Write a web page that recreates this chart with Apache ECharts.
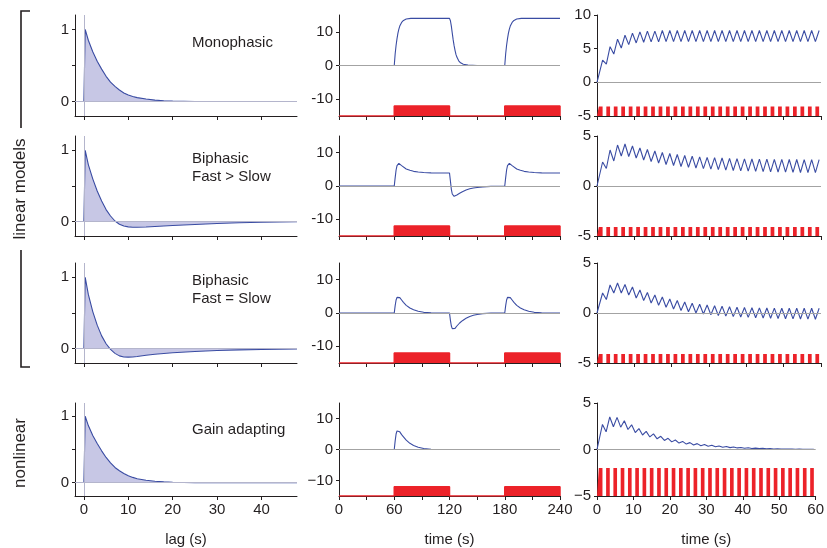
<!DOCTYPE html>
<html>
<head>
<meta charset="utf-8">
<script src="https://cdn.jsdelivr.net/npm/echarts@6/dist/echarts.min.js"></script>
<style>
  html, body { margin: 0; background: #fff; }
  #chart { width: 827px; height: 548px; }
</style>
</head>
<body>
<div id="chart"></div>
<script>
// ---- column 1: temporal kernels (lag in s) ----
const kernelLag   = [0, 0.3, 1, 2, 3, 4, 5, 6, 7, 8, 9, 10, 11, 12, 14, 16, 18, 20, 25, 30, 35, 40, 48]
const kernelMono  = [0, 1.0, 0.85, 0.69, 0.56, 0.45, 0.35, 0.27, 0.21, 0.16, 0.12, 0.09, 0.07, 0.055, 0.035, 0.02, 0.012, 0.007, 0.002, 0, 0, 0, 0]
const kernelFast  = [0, 1.0, 0.8, 0.6, 0.43, 0.29, 0.17, 0.08, 0.01, -0.035, -0.06, -0.072, -0.078, -0.078, -0.074, -0.067, -0.06, -0.053, -0.038, -0.025, -0.015, -0.008, 0]
const kernelEqual = [0, 1.0, 0.76, 0.52, 0.33, 0.18, 0.07, -0.01, -0.065, -0.1, -0.115, -0.118, -0.115, -0.108, -0.092, -0.078, -0.066, -0.056, -0.038, -0.025, -0.016, -0.01, -0.004]
const kernelGain  = [0, 1.0, 0.86, 0.71, 0.59, 0.48, 0.38, 0.3, 0.23, 0.18, 0.14, 0.105, 0.08, 0.06, 0.037, 0.022, 0.013, 0.008, 0.002, 0, 0, 0, 0]
const kernelNames = [['Monophasic'], ['Biphasic', 'Fast > Slow'], ['Biphasic', 'Fast = Slow'], ['Gain adapting']]

// ---- column 2: responses to 60 s steps ----
const stepOn = [60, 180]
const stepDur = 60
const stepTop = -12
const stepT1 = [0, 60, 61, 62, 63, 64, 65, 66, 68, 70, 73, 78, 120, 121, 122, 123, 124, 125, 126, 127, 128, 130, 132, 135, 140, 150, 180, 181, 182, 183, 184, 185, 186, 188, 190, 193, 198, 240]
const stepY1 = [0, 0, 3.5, 6.0, 8.0, 9.6, 10.8, 11.7, 12.8, 13.4, 13.8, 14, 14, 13.3, 11.7, 9.6, 7.6, 5.9, 4.5, 3.3, 2.5, 1.4, 0.8, 0.35, 0.1, 0, 0, 3.5, 6.0, 8.0, 9.6, 10.8, 11.7, 12.8, 13.4, 13.8, 14, 14]
const stepT2 = [0, 60, 61, 62, 63, 64, 65, 66, 68, 70, 73, 77, 81, 86, 92, 100, 110, 120, 121, 122, 123, 124, 125, 126, 128, 131, 134, 138, 142, 146, 150, 156, 165, 180, 181, 182, 183, 184, 185, 186, 188, 190, 193, 197, 201, 206, 212, 220, 230, 240]
const stepY2 = [0, 0, 2.5, 4.8, 6.1, 6.7, 6.8, 6.6, 6.1, 5.6, 5.1, 4.7, 4.4, 4.2, 4.05, 3.95, 3.9, 3.9, 1.5, -1.0, -2.4, -3.0, -3.1, -3.0, -2.7, -2.2, -1.7, -1.2, -0.85, -0.6, -0.45, -0.25, -0.1, 0, 2.5, 4.8, 6.1, 6.7, 6.8, 6.6, 6.1, 5.6, 5.1, 4.7, 4.4, 4.2, 4.05, 3.95, 3.9, 3.9]
const stepT3 = [0, 60, 61, 62, 63, 64, 65, 66, 68, 70, 73, 77, 81, 86, 92, 100, 120, 121, 122, 123, 124, 125, 126, 128, 131, 134, 138, 142, 146, 150, 156, 165, 180, 181, 182, 183, 184, 185, 186, 188, 190, 193, 197, 201, 206, 212, 220, 240]
const stepY3 = [0, 0, 2.2, 3.9, 4.7, 5.0, 4.9, 4.6, 3.9, 3.2, 2.3, 1.5, 0.95, 0.5, 0.2, 0.05, 0, -2.2, -3.9, -4.7, -5.0, -4.9, -4.6, -3.9, -3.0, -2.3, -1.6, -1.05, -0.7, -0.45, -0.2, -0.05, 0, 2.2, 3.9, 4.7, 5.0, 4.9, 4.6, 3.9, 3.2, 2.3, 1.5, 0.95, 0.5, 0.2, 0.05, 0]
const stepT4 = [0, 60, 61, 62, 63, 64, 65, 66, 68, 70, 73, 77, 81, 86, 92, 100, 110, 240]
const stepY4 = [0, 0, 2.8, 5.0, 6.0, 6.3, 6.1, 5.7, 4.8, 4.1, 3.0, 2.0, 1.3, 0.7, 0.3, 0.1, 0, 0]

// ---- column 3: responses to 1 s pulses every 2 s ----
const pulseOn = [0.5, 2.5, 4.5, 6.5, 8.5, 10.5, 12.5, 14.5, 16.5, 18.5, 20.5, 22.5, 24.5, 26.5, 28.5, 30.5, 32.5, 34.5, 36.5, 38.5, 40.5, 42.5, 44.5, 46.5, 48.5, 50.5, 52.5, 54.5, 56.5, 58.5]
const pulseDur = 1
const pulseTop = [-3.6, -4.1, -4.1, -2.0]
const peaks1   = [3.3, 5.3, 6.4, 7.0, 7.3, 7.5, 7.6, 7.6, 7.7, 7.7, 7.7, 7.7, 7.7, 7.7, 7.7, 7.7, 7.7, 7.7, 7.7, 7.7, 7.7, 7.7, 7.7, 7.7, 7.7, 7.7, 7.7, 7.7, 7.7, 7.7]
const troughs1 = [2.7, 4.2, 5.1, 5.6, 5.85, 5.95, 6.0, 6.0, 6.05, 6.05, 6.05, 6.05, 6.05, 6.05, 6.05, 6.05, 6.05, 6.05, 6.05, 6.05, 6.05, 6.05, 6.05, 6.05, 6.05, 6.05, 6.05, 6.05, 6.05]
const peaks2   = [2.4, 3.6, 4.1, 4.2, 4.0, 3.8, 3.65, 3.5, 3.35, 3.25, 3.15, 3.05, 2.98, 2.92, 2.87, 2.83, 2.8, 2.77, 2.74, 2.72, 2.7, 2.69, 2.68, 2.67, 2.66, 2.65, 2.65, 2.64, 2.64, 2.63]
const troughs2 = [1.75, 2.5, 3.0, 2.95, 2.8, 2.6, 2.45, 2.3, 2.15, 2.05, 1.95, 1.87, 1.8, 1.74, 1.68, 1.63, 1.59, 1.55, 1.52, 1.49, 1.46, 1.44, 1.42, 1.4, 1.38, 1.36, 1.35, 1.34, 1.33]
const peaks3   = [2.0, 2.8, 3.0, 2.85, 2.6, 2.3, 2.05, 1.8, 1.6, 1.4, 1.25, 1.1, 0.98, 0.88, 0.8, 0.73, 0.67, 0.62, 0.58, 0.55, 0.53, 0.51, 0.5, 0.49, 0.48, 0.48, 0.47, 0.47, 0.47, 0.47]
const troughs3 = [1.35, 2.0, 2.0, 1.8, 1.5, 1.25, 1.0, 0.78, 0.58, 0.4, 0.25, 0.12, 0.0, -0.1, -0.18, -0.25, -0.31, -0.36, -0.4, -0.44, -0.47, -0.5, -0.53, -0.55, -0.57, -0.59, -0.6, -0.61, -0.62]
const peaks4   = [2.7, 3.5, 3.45, 3.1, 2.65, 2.25, 1.95, 1.68, 1.42, 1.2, 1.02, 0.87, 0.74, 0.63, 0.53, 0.45, 0.38, 0.32, 0.27, 0.22, 0.18, 0.15, 0.12, 0.1, 0.08, 0.06, 0.05, 0.04, 0.03, 0.03]
const troughs4 = [1.9, 2.45, 2.4, 2.15, 1.82, 1.56, 1.35, 1.15, 0.97, 0.82, 0.69, 0.58, 0.49, 0.41, 0.35, 0.29, 0.24, 0.2, 0.17, 0.14, 0.11, 0.09, 0.07, 0.06, 0.05, 0.04, 0.03, 0.02, 0.02]

// ---- tick labels ----
const lagTicks = [0, 10, 20, 30, 40]
const kernelTicks = [0, 0.5, 1]
const kernelLabels = [0, 1]
const stepTimeLabels = [0, 60, 120, 180, 240]
const stepYTicks = [-10, 0, 10]

const kernels = [kernelMono, kernelFast, kernelEqual, kernelGain]
const stepT = [stepT1, stepT2, stepT3, stepT4]
const stepY = [stepY1, stepY2, stepY3, stepY4]
const peaks = [peaks1, peaks2, peaks3, peaks4]
const troughs = [troughs1, troughs2, troughs3, troughs4]

const BLUE = '#3a4ca3'
const FILL = '#c7c7e5'
const RED = '#ec2229'
const GRAY = '#a3a3a3'
const INK = '#231f20'
const FONT = '"Liberation Sans", Arial, Helvetica, sans-serif'

const colLeft = [75, 339, 597]
const colWidth = [222, 221, 224]
const rowTop = [15, 136, 263, 403]
const rowHeight = [101, 100, 100, 98]

function zip (xs, ys) {
  return xs.map((x, i) => [x, ys[i]])
}

function pulseTrace (pk, tr) {
  let d = [[0, 0]]
  pulseOn.forEach((t, k) => {
    d.push([t, k === 0 ? 0 : tr[k - 1]])
    d.push([t + pulseDur, pk[k]])
  })
  return d
}

function stimulus (onsets, dur, base, top) {
  let d = [[0, base]]
  onsets.forEach(t => {
    d.push([t, base], [t, top], [t + dur, top], [t + dur, base])
  })
  return d
}

function minus (v) {
  return String(v).replace('-', '\u2212')
}

let grids = []
let xAxes = []
let yAxes = []
let series = []

const axisLine = { show: true, onZero: false, lineStyle: { color: INK, width: 1 } }
const tickStyle = { color: INK, width: 1 }

for (let r = 0; r < 4; r++) {
  const bottom = r === 3
  for (let c = 0; c < 3; c++) {
    const g = r * 3 + c
    grids.push({ left: colLeft[c], top: rowTop[r], width: colWidth[c], height: rowHeight[r] })

    let xa = {
      gridIndex: g, type: 'value',
      axisLine: axisLine,
      axisTick: { show: true, length: 4, lineStyle: tickStyle },
      axisLabel: { show: bottom, color: INK, fontSize: 15, fontFamily: FONT, margin: 6 },
      splitLine: { show: false }
    }
    let ya = {
      gridIndex: g, type: 'value',
      axisLine: axisLine,
      axisTick: { show: true, length: 3, lineStyle: tickStyle },
      axisLabel: { color: INK, fontSize: 15, fontFamily: FONT, margin: 6,
        formatter: v => bottom ? minus(v) : String(v) },
      splitLine: { show: false }
    }

    if (c === 0) {
      xa.min = -2; xa.max = 48
      xa.axisTick.customValues = lagTicks
      xa.axisLabel.customValues = lagTicks
      ya.min = -0.2; ya.max = 1.2
      ya.axisTick.customValues = kernelTicks
      ya.axisLabel.customValues = kernelLabels
      if (bottom) {
        xa.name = 'lag (s)'
      }
    } else if (c === 1) {
      xa.min = 0; xa.max = 240; xa.interval = 30
      xa.axisLabel.formatter = v => (stepTimeLabels.indexOf(v) >= 0 ? String(v) : '')
      ya.min = -15; ya.max = 15
      ya.axisTick.customValues = stepYTicks
      ya.axisLabel.customValues = stepYTicks
      if (bottom) xa.name = 'time (s)'
    } else {
      xa.min = 0; xa.max = 60; xa.interval = 10
      ya.min = -5; ya.max = r === 0 ? 10 : 5; ya.interval = 5
      if (bottom) xa.name = 'time (s)'
    }
    if (xa.name) {
      xa.nameLocation = 'middle'
      xa.nameGap = 36
      xa.nameTextStyle = { color: INK, fontSize: 15, fontFamily: FONT }
    }
    xAxes.push(xa)
    yAxes.push(ya)

    // zero reference lines
    let refs = [{ yAxis: 0 }]
    if (c === 0) refs.push({ xAxis: 0 })
    series.push({
      type: 'line', xAxisIndex: g, yAxisIndex: g, z: 1,
      data: [], silent: true,
      markLine: {
        silent: true, symbol: 'none', label: { show: false },
        lineStyle: { color: c === 0 ? '#b4b5cc' : GRAY, width: 1, type: 'solid' },
        data: refs, animation: false
      }
    })
  }

  // kernel
  series.push({
    type: 'line', xAxisIndex: r * 3, yAxisIndex: r * 3, z: 3,
    data: zip(kernelLag, kernels[r]), showSymbol: false,
    lineStyle: { color: BLUE, width: 1.1 },
    areaStyle: { color: FILL, opacity: 1 }
  })

  // step stimulus + response
  series.push({
    type: 'line', xAxisIndex: r * 3 + 1, yAxisIndex: r * 3 + 1, z: 4,
    data: stimulus(stepOn, stepDur, -15, stepTop), showSymbol: false,
    lineStyle: { color: RED, width: 1.5 },
    areaStyle: { color: RED, opacity: 1, origin: 'start' }
  })
  series.push({
    type: 'line', xAxisIndex: r * 3 + 1, yAxisIndex: r * 3 + 1, z: 3,
    data: zip(stepT[r], stepY[r]), showSymbol: false,
    lineStyle: { color: BLUE, width: 1.1 }
  })

  // pulse stimulus + response
  series.push({
    type: 'line', xAxisIndex: r * 3 + 2, yAxisIndex: r * 3 + 2, z: 4,
    data: stimulus(pulseOn, pulseDur, -5, pulseTop[r]), showSymbol: false,
    lineStyle: { width: 0 },
    areaStyle: { color: RED, opacity: 1, origin: 'start' }
  })
  series.push({
    type: 'line', xAxisIndex: r * 3 + 2, yAxisIndex: r * 3 + 2, z: 3,
    data: pulseTrace(peaks[r], troughs[r]), showSymbol: false,
    lineStyle: { color: BLUE, width: 1.1 }
  })
}

// panel labels and row bracket
let graphics = []
const labelY = [[43], [159, 177], [281, 299], [430]]
kernelNames.forEach((lines, r) => {
  lines.forEach((txt, i) => {
    graphics.push({ type: 'text', x: 192, y: labelY[r][i],
      style: { text: txt, fill: INK, fontSize: 15, fontFamily: FONT, verticalAlign: 'middle' } })
  })
})
graphics.push({ type: 'polyline', shape: { points: [[30, 11], [21, 11], [21, 128]] },
  style: { stroke: INK, lineWidth: 1.6, fill: null } })
graphics.push({ type: 'polyline', shape: { points: [[21, 250], [21, 367], [30, 367]] },
  style: { stroke: INK, lineWidth: 1.6, fill: null } })
graphics.push({ type: 'text', x: 20, y: 189, rotation: Math.PI / 2,
  style: { text: 'linear models', fill: INK, fontSize: 17, fontFamily: FONT, align: 'center', verticalAlign: 'middle' } })
graphics.push({ type: 'text', x: 20, y: 453, rotation: Math.PI / 2,
  style: { text: 'nonlinear', fill: INK, fontSize: 17, fontFamily: FONT, align: 'center', verticalAlign: 'middle' } })

let myChart = echarts.init(document.getElementById('chart'))
myChart.setOption({
  animation: false,
  grid: grids,
  xAxis: xAxes,
  yAxis: yAxes,
  series: series,
  graphic: graphics
})
</script>
</body>
</html>
